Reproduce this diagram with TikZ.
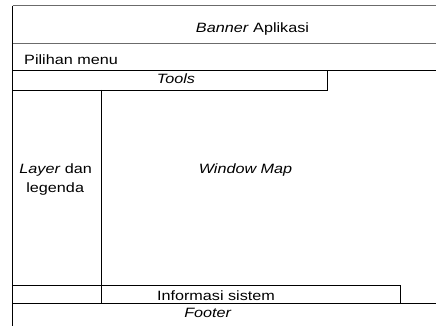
\documentclass[tikz,border=0pt]{standalone}
\usepackage{fontspec}
\setmainfont{Liberation Sans}[FakeStretch=1.2]
\begin{document}
\begin{tikzpicture}[x=1pt,y=-1pt,
  frame/.style={draw=black,line width=0.9pt},
  grayline/.style={draw=black!58,line width=1.4pt},
  lbl/.style={anchor=base,inner sep=0pt,font=\fontsize{13.5}{19}\selectfont}]
\useasboundingbox (0,0) rectangle (436,326);
% outer structure
\draw[grayline] (12.7,5.7) -- (436,5.7);
\draw[grayline] (12.7,43.7) -- (436,43.7);
\draw[frame] (12.7,5.7) -- (12.7,326);
\draw[frame] (12.7,70.3) -- (436,70.3);
\draw[frame] (12.7,90) -- (327,90) -- (327,70.3);
\draw[frame] (101.7,90) -- (101.7,303);
\draw[frame] (12.7,285.5) -- (400,285.5) -- (400,303);
\draw[frame] (12.7,303) -- (436,303);
% labels
\node[lbl] (banner) at (252.5,32.7) {\textit{Banner} Aplikasi};
\node[lbl,anchor=base west] (menu) at (24,65) {Pilihan menu};
\node[lbl] (tools) at (176,84) {\textit{Tools}};
\node[lbl] (layer1) at (55.7,173.3) {\textit{Layer} dan};
\node[lbl] (layer2) at (55.2,192.7) {legenda};
\node[lbl] (map) at (245.5,173.3) {\textit{Window Map}};
\node[lbl] (info) at (216,300.5) {Informasi sistem};
\node[lbl] (footer) at (208,317.3) {\textit{Footer}};
\end{tikzpicture}
\end{document}
